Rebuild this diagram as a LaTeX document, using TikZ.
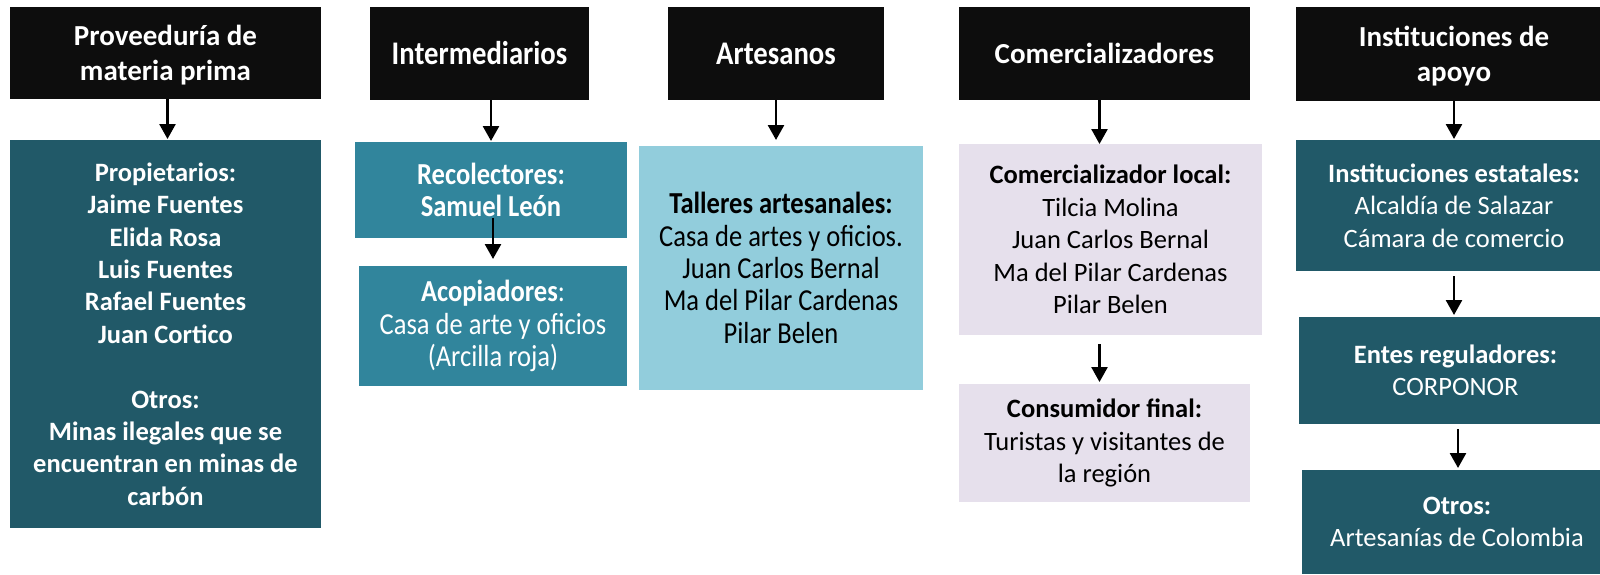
\documentclass[tikz,border=0pt]{standalone}
\usepackage{fontspec}
\setmainfont{Carlito}
\newfontfamily\tallfont{Carlito}[FakeStretch=0.87]
\usetikzlibrary{arrows.meta,calc}
\definecolor{hdrblack}{HTML}{0D0D0D}
\definecolor{darkteal}{HTML}{215968}
\definecolor{midteal}{HTML}{31859C}
\definecolor{lightblue}{HTML}{92CDDC}
\definecolor{lavender}{HTML}{E6E0EC}
\begin{document}
\begin{tikzpicture}[x=1pt,y=-1pt,
  box/.style={rectangle, inner sep=0pt, outer sep=0pt, align=center, anchor=center},
  hdr/.style={box, fill=hdrblack, text=white, font=\fontsize{29}{35}\selectfont\bfseries},
  hdrtall/.style={box, fill=hdrblack, text=white, font=\tallfont\fontsize{33}{35}\selectfont\bfseries},
  body/.style={box, font=\fontsize{26.5}{32.4}\selectfont},
  bodytall/.style={box, font=\tallfont\fontsize{30.5}{32.4}\selectfont},
  arr/.style={line width=2.6pt, -{Triangle[width=16pt,length=15pt]}}
]
\useasboundingbox (0,0) rectangle (1600,574);
\clip (0,0) rectangle (1600,574);
\fill[white] (0,0) rectangle (1600,574);

% Column 1
\node[hdr, minimum width=311pt, minimum height=92pt, text height=60pt] (h1) at (165.5,53) {Proveeduría de\\materia prima};
\node[body, fill=darkteal, text=white, font=\fontsize{26.5}{32.4}\selectfont\bfseries, minimum width=311pt, minimum height=388pt] (b1) at (165.5,334)
 {Propietarios:\\Jaime Fuentes\\Elida Rosa\\Luis Fuentes\\Rafael Fuentes\\Juan Cortico\\[32.4pt]Otros:\\Minas ilegales que se\\encuentran en minas de\\carbón};

% Column 2
\node[hdrtall, minimum width=219pt, minimum height=93pt] (h2) at (479.5,53.5) {Intermediarios};
\node[bodytall, fill=midteal, text=white, minimum width=272pt, minimum height=96pt] (rec) at (491,190)
 {\textbf{Recolectores:}\\\textbf{Samuel León}};
\node[bodytall, fill=midteal, text=white, minimum width=268pt, minimum height=120pt] (aco) at (493,326)
 {\textbf{Acopiadores}:\\Casa de arte y oficios\\(Arcilla roja)};

% Column 3
\node[hdrtall, minimum width=216pt, minimum height=93pt] (h3) at (776,53.5) {Artesanos};
\node[bodytall, fill=lightblue, text=black, minimum width=284pt, minimum height=244pt] (art) at (781,268)
 {\textbf{Talleres artesanales:}\\Casa de artes y oficios.\\Juan Carlos Bernal\\Ma del Pilar Cardenas\\Pilar Belen};

% Column 4
\node[hdr, minimum width=291pt, minimum height=93pt] (h4) at (1104.5,53.5) {Comercializadores};
\node[body, fill=lavender, text=black, minimum width=303pt, minimum height=191pt] (lc) at (1110.5,239.5)
 {\textbf{Comercializador local:}\\Tilcia Molina\\Juan Carlos Bernal\\Ma del Pilar Cardenas\\Pilar Belen};
\node[body, fill=lavender, text=black, minimum width=291pt, minimum height=118pt] (cf) at (1104.5,443)
 {\textbf{Consumidor final:}\\Turistas y visitantes de\\la región};

% Column 5
\node[hdr, minimum width=316pt, minimum height=94pt, text height=60pt] (h5) at (1454,54) {Instituciones de\\apoyo};
\node[body, fill=darkteal, text=white, minimum width=316pt, minimum height=131pt] (e1) at (1454,205.5)
 {\textbf{Instituciones estatales:}\\Alcaldía de Salazar\\Cámara de comercio};
\node[body, fill=darkteal, text=white, minimum width=313pt, minimum height=107pt] (e2) at (1455.5,370.5)
 {\textbf{Entes reguladores:}\\CORPONOR};
\node[body, fill=darkteal, text=white, minimum width=310pt, minimum height=104pt] (e3) at (1457,522)
 {\textbf{Otros:}\\Artesanías de Colombia};

% Arrows
\draw[arr] ($(h1.south)+(2,0)$) -- ($(b1.north)+(2,-1)$);
\draw[arr] (h2.south -| rec.north) -- ($(rec.north)+(0,-1)$);
\draw[arr] ($(rec.south)+(2,-20)$) -- ($(aco.north)+(0,-7)$);
\draw[arr] (h3.south) -- ($(art.north -| h3.south)+(0,-6)$);
\draw[arr] ($(h4.south)+(-5,0)$) -- ($(h4.south |- lc.north)+(-5,0)$);
\draw[arr] ($(lc.south -| h4.south)+(-5,9)$) -- ($(cf.north -| h4.south)+(-5,-2)$);
\draw[arr] (h5.south) -- ($(e1.north)+(0,-1)$);
\draw[arr] ($(e1.south)+(0,5)$) -- ($(e1.south |- e2.north)+(0,-2)$);
\draw[arr] ($(e3.north |- e2.south)+(1,5)$) -- ($(e3.north)+(1,-2)$);
\end{tikzpicture}
\end{document}
